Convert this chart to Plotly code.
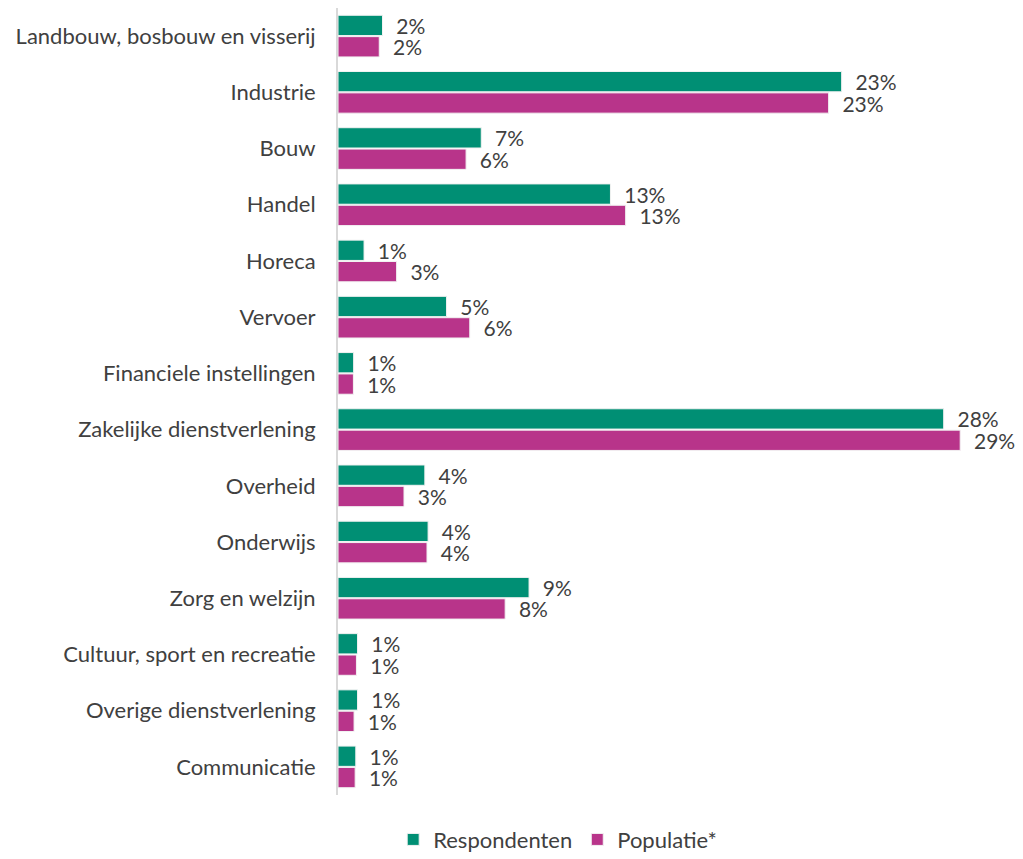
import plotly.graph_objects as go

# sector categories, top to bottom
sectors = [
    "Landbouw, bosbouw en visserij",
    "Industrie",
    "Bouw",
    "Handel",
    "Horeca",
    "Vervoer",
    "Financiele instellingen",
    "Zakelijke dienstverlening",
    "Overheid",
    "Onderwijs",
    "Zorg en welzijn",
    "Cultuur, sport en recreatie",
    "Overige dienstverlening",
    "Communicatie",
]

# shares (fraction)
respondenten = [0.0205, 0.232, 0.066, 0.1255, 0.012, 0.050, 0.0072, 0.279,
                0.040, 0.0415, 0.088, 0.009, 0.009, 0.0082]
populatie = [0.019, 0.226, 0.059, 0.1325, 0.027, 0.0607, 0.0071, 0.2866,
             0.0304, 0.041, 0.077, 0.0085, 0.0074, 0.0079]

GREEN = "#008F74"
PINK = "#B8348A"
TEXT = "#404040"
FONT = "Lato"
FS = 22

fig = go.Figure()
for name, vals, col in [("Respondenten", respondenten, GREEN),
                        ("Populatie*", populatie, PINK)]:
    fig.add_trace(go.Bar(
        name=name,
        y=sectors,
        x=vals,
        orientation="h",
        marker=dict(color=col, line=dict(color="#f2f2f2", width=1)),
        texttemplate="\u00a0\u00a0%{x:.0%}",
        textposition="outside",
        constraintext="none",
        textfont=dict(size=21, color=TEXT, family=FONT),
        cliponaxis=False,
    ))

# the page adds an 8px body margin, so margins are set 8px smaller
fig.update_layout(
    width=1023,
    height=859,
    barmode="group",
    bargap=0.24,
    bargroupgap=0.05,
    plot_bgcolor="white",
    paper_bgcolor="white",
    font=dict(family=FONT, size=FS, color=TEXT),
    margin=dict(l=330, r=20, t=0, b=72),
    showlegend=True,
    legend=dict(
        orientation="h",
        x=0.082,
        xanchor="left",
        y=-0.03,
        yanchor="top",
        font=dict(size=FS, color=TEXT, family=FONT),
        traceorder="normal",
    ),
)

fig.update_xaxes(
    range=[0, 0.31],
    visible=False,
    showgrid=False,
    zeroline=False,
)
fig.update_yaxes(
    autorange="reversed",
    showgrid=False,
    showline=True,
    linecolor="#d9d9d9",
    linewidth=2,
    ticks="",
    ticklabelstandoff=16,
    tickfont=dict(size=FS, color=TEXT, family=FONT),
)

fig.write_html("out.html")
